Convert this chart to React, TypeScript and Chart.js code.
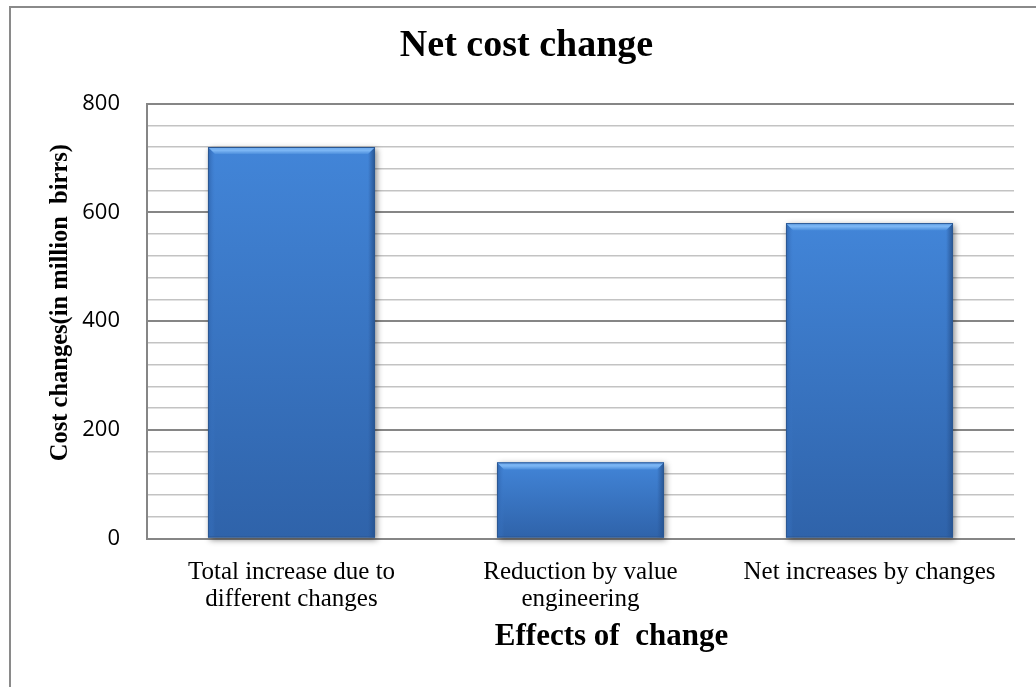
import React, { useEffect, useRef } from "react";
import { Chart, registerables } from "chart.js";

Chart.register(...registerables);

const categories: (string | string[])[] = [
  ["Total increase due to", "different changes"],
  ["Reduction by value", "engineering"],
  "Net increases by changes",
];
const costValues = [720, 140, 580];
const yMin = 0;
const yMax = 800;
const yMinorStep = 40;
const yMajorStep = 200;
const chartTitle = "Net cost change";
const xAxisTitle = "        Effects of  change";
const yAxisTitle = "      Cost changes(in million  birrs)";

const W = 1036;
const H = 687;

const bevelBarsPlugin = {
  id: "bevelBars",
  beforeDatasetDraw(chart: any, args: any) {
    const ctx: CanvasRenderingContext2D = chart.ctx;
    const meta = args.meta;
    meta.data.forEach((el: any) => {
      const p = el.getProps(["x", "y", "base", "width"], true);
      const l = p.x - p.width / 2;
      const r = p.x + p.width / 2;
      const t = Math.min(p.y, p.base);
      const b = Math.max(p.y, p.base);
      const w = r - l;
      const h = b - t;
      const d = 7;
      ctx.save();
      ctx.shadowColor = "rgba(0,0,0,0.45)";
      ctx.shadowBlur = 6;
      ctx.shadowOffsetX = 2;
      ctx.shadowOffsetY = 2;
      const g = ctx.createLinearGradient(0, t, 0, b);
      g.addColorStop(0, "#4285d8");
      g.addColorStop(1, "#2f63aa");
      ctx.fillStyle = g;
      ctx.fillRect(l, t, w, h);
      ctx.restore();
      ctx.save();
      const gl = ctx.createLinearGradient(l, 0, l + d, 0);
      gl.addColorStop(0, "#2f65ad");
      gl.addColorStop(1, "rgba(60,120,200,0)");
      ctx.fillStyle = gl;
      ctx.beginPath();
      ctx.moveTo(l, t);
      ctx.lineTo(l + d, t + d);
      ctx.lineTo(l + d, b);
      ctx.lineTo(l, b);
      ctx.closePath();
      ctx.fill();
      const gr = ctx.createLinearGradient(r - d, 0, r, 0);
      gr.addColorStop(0, "rgba(40,85,150,0)");
      gr.addColorStop(1, "#27548f");
      ctx.fillStyle = gr;
      ctx.beginPath();
      ctx.moveTo(r, t);
      ctx.lineTo(r - d, t + d);
      ctx.lineTo(r - d, b);
      ctx.lineTo(r, b);
      ctx.closePath();
      ctx.fill();
      const gt = ctx.createLinearGradient(0, t, 0, t + d);
      gt.addColorStop(0, "#6aa8ee");
      gt.addColorStop(0.5, "#7cb6f4");
      gt.addColorStop(1, "#4d8fdd");
      ctx.fillStyle = gt;
      ctx.beginPath();
      ctx.moveTo(l, t);
      ctx.lineTo(r, t);
      ctx.lineTo(r - d, t + d);
      ctx.lineTo(l + d, t + d);
      ctx.closePath();
      ctx.fill();
      ctx.strokeStyle = "#2b5792";
      ctx.lineWidth = 1;
      ctx.strokeRect(l + 0.5, t + 0.5, w - 1, h - 1);
      ctx.restore();
    });
    return false;
  },
};

export default function App() {
  const canvasRef = useRef<HTMLCanvasElement | null>(null);

  useEffect(() => {
    const canvas = canvasRef.current;
    if (!canvas) return;
    const chart = new Chart(canvas, {
      type: "bar",
      data: {
        labels: categories as any,
        datasets: [
          {
            data: costValues,
            backgroundColor: "#3a74c4",
            barPercentage: 0.578,
            categoryPercentage: 1,
          },
        ],
      },
      options: {
        animation: false,
        responsive: false,
        devicePixelRatio: 1,
        layout: { padding: { left: 39, right: 22, top: 0, bottom: 0 } },
        plugins: {
          legend: { display: false },
          tooltip: { enabled: false },
          title: {
            display: true,
            text: chartTitle,
            color: "#000",
            font: { family: "Liberation Serif", size: 38, weight: "bold", lineHeight: 1.2 },
            padding: { top: 23.4, bottom: 34.5 },
          },
        },
        scales: {
          x: {
            grid: { display: false, drawTicks: false },
            border: { display: true, color: "#868686", width: 2 },
            ticks: {
              color: "#000",
              font: { family: "Liberation Serif", size: 25, lineHeight: 27 / 25 },
              padding: 20,
              maxRotation: 0,
              autoSkip: false,
            },
            title: {
              display: true,
              text: xAxisTitle,
              color: "#000",
              font: { family: "Liberation Serif", size: 31, weight: "bold", lineHeight: 1.2 },
              padding: { top: 0, bottom: 31 },
            },
            afterFit: (s: any) => {
              s.height = H - 538.5;
            },
          },
          y: {
            min: yMin,
            max: yMax,
            ticks: {
              stepSize: yMinorStep,
              autoSkip: false,
              padding: 27,
              color: "#000",
              font: { family: "Open Sans", size: 22 },
              callback: (v: any) => (Number(v) % yMajorStep === 0 ? String(v) : ""),
            },
            grid: {
              drawTicks: false,
              color: (c: any) =>
                c.tick && c.tick.value % yMajorStep === 0 ? "#868686" : "#c3c3c3",
              lineWidth: (c: any) => (c.tick && c.tick.value % yMajorStep === 0 ? 2 : 1.5),
            },
            border: { display: true, color: "#868686", width: 2 },
            title: {
              display: true,
              text: yAxisTitle,
              color: "#000",
              font: { family: "Liberation Serif", size: 24.5, weight: "bold", lineHeight: 1.2 },
              padding: { top: 6.5, bottom: 0 },
            },
            afterFit: (s: any) => {
              s.width = 108;
            },
          },
        },
      } as any,
      plugins: [bevelBarsPlugin as any],
    });
    return () => chart.destroy();
  }, []);

  return (
    <div
      style={{
        position: "fixed",
        left: 0,
        top: 0,
        width: W,
        height: H,
        overflow: "hidden",
        background: "#fff",
      }}
    >
      <div
        style={{
          position: "absolute",
          left: 9,
          top: 6,
          width: W + 50,
          height: H + 50,
          borderLeft: "2px solid #8a8a8a",
          borderTop: "2px solid #8a8a8a",
          boxSizing: "border-box",
        }}
      />
      <canvas
        ref={canvasRef}
        width={W}
        height={H}
        style={{ position: "absolute", left: 0, top: 0, display: "block" }}
      />
    </div>
  );
}
